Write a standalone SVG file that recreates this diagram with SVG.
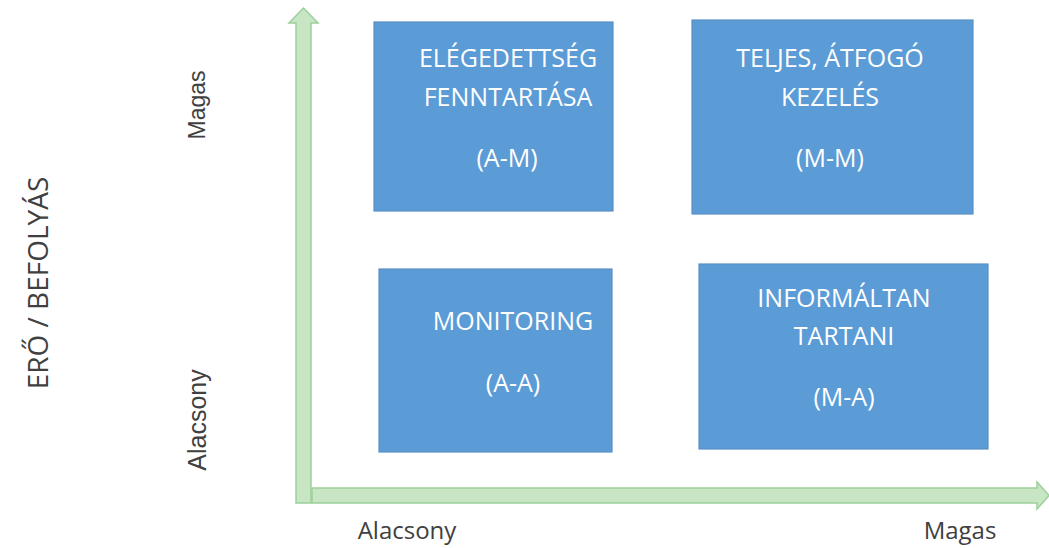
<svg xmlns="http://www.w3.org/2000/svg" width="1049" height="548" viewBox="0 0 1049 548">
<style>
.box{fill:#5b9bd6;stroke:#5a8fc6;stroke-width:1.2}
.bt{font-family:"Open Sans","Liberation Sans",sans-serif;font-size:25px;fill:#ffffff;text-anchor:middle}
.ax{fill:#c8e6c4;stroke:#9dd09a;stroke-width:1.5}
.lab{font-family:"Open Sans","Liberation Sans",sans-serif;font-size:24px;fill:#404040;text-anchor:middle}
.vlab{font-family:"Liberation Sans",Arial,sans-serif;font-size:25px;fill:#404040;text-anchor:middle}
</style>
<rect width="1049" height="548" fill="#ffffff"/>
<g id="axes">
<path class="ax" d="M296,503 V23 H289 L303.5,8 L318,23 H311 V503 Z"/>
<path class="ax" d="M312,488 H1037 V482 L1049,495.5 L1037,509 V503 H312 Z"/>
</g>
<g id="node-am">
<rect class="box" x="374" y="22" width="239" height="189"/>
<text class="bt" x="508" y="67">ELÉGEDETTSÉG</text>
<text class="bt" x="508" y="106">FENNTARTÁSA</text>
<text class="bt" x="507" y="167">(A-M)</text>
</g>
<g id="node-mm">
<rect class="box" x="692" y="20" width="281" height="194"/>
<text class="bt" x="830" y="67">TELJES, ÁTFOGÓ</text>
<text class="bt" x="830" y="106">KEZELÉS</text>
<text class="bt" x="830" y="167">(M-M)</text>
</g>
<g id="node-aa">
<rect class="box" x="379" y="269" width="233" height="183"/>
<text class="bt" x="513" y="330">MONITORING</text>
<text class="bt" x="513" y="392">(A-A)</text>
</g>
<g id="node-ma">
<rect class="box" x="699" y="264" width="289" height="185"/>
<text class="bt" x="844" y="307">INFORMÁLTAN</text>
<text class="bt" x="844" y="345">TARTANI</text>
<text class="bt" x="844" y="406">(M-A)</text>
</g>
<g id="labels">
<text class="lab" x="407" y="539">Alacsony</text>
<text class="lab" x="960" y="539">Magas</text>
<text class="vlab" style="font-size:23px" transform="translate(205,105) rotate(-90)">Magas</text>
<text class="vlab" transform="translate(206,420) rotate(-90)">Alacsony</text>
<text class="lab" style="font-size:28px" transform="translate(48,283) rotate(-90)">ERŐ / BEFOLYÁS</text>
</g>
</svg>
